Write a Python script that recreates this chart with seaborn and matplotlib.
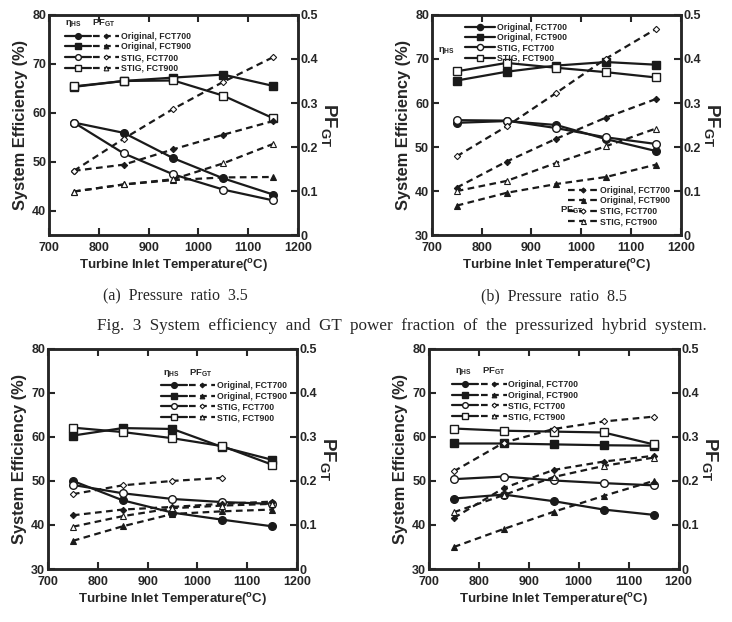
import numpy as np
import seaborn as sns
import matplotlib.pyplot as plt
from matplotlib.legend_handler import HandlerTuple

#%% data
tit = [750, 850, 950, 1050, 1150]
series = ["Original, FCT700", "Original, FCT900", "STIG, FCT700", "STIG, FCT900"]

# (a) pressure ratio 3.5
eff_a = {"Original, FCT700": [58.0, 55.9, 50.7, 46.6, 43.3],
         "Original, FCT900": [65.3, 66.5, 67.2, 67.8, 65.5],
         "STIG, FCT700":     [58.0, 51.7, 47.4, 44.3, 42.1],
         "STIG, FCT900":     [65.4, 66.5, 66.6, 63.5, 58.9]}
pf_a = {"Original, FCT700": [0.146, 0.160, 0.195, 0.228, 0.259],
        "Original, FCT900": [0.099, 0.115, 0.125, 0.131, 0.132],
        "STIG, FCT700":     [0.146, 0.219, 0.287, 0.348, 0.404],
        "STIG, FCT900":     [0.099, 0.115, 0.127, 0.163, 0.207]}

# (b) pressure ratio 8.5
eff_b = {"Original, FCT700": [55.5, 55.9, 55.0, 51.8, 49.1],
         "Original, FCT900": [65.1, 67.1, 68.5, 69.3, 68.7],
         "STIG, FCT700":     [56.1, 56.0, 54.3, 52.2, 50.7],
         "STIG, FCT900":     [67.2, 69.1, 68.0, 67.0, 65.8]}
pf_b = {"Original, FCT700": [0.108, 0.167, 0.219, 0.267, 0.309],
        "Original, FCT900": [0.067, 0.096, 0.116, 0.132, 0.160],
        "STIG, FCT700":     [0.179, 0.247, 0.323, 0.401, 0.468],
        "STIG, FCT900":     [0.100, 0.123, 0.164, 0.202, 0.242]}

# (c)
eff_c = {"Original, FCT700": [50.0, 45.6, 42.8, 41.2, 39.7],
         "Original, FCT900": [60.3, 62.0, 61.8, 57.7, 54.8],
         "STIG, FCT700":     [49.1, 47.2, 45.9, 45.2, 44.8],
         "STIG, FCT900":     [62.1, 61.1, 59.7, 57.9, 53.7]}
pf_c = {"Original, FCT700": [0.122, 0.135, 0.141, 0.148, 0.153],
        "Original, FCT900": [0.064, 0.097, 0.125, 0.131, 0.135],
        "STIG, FCT700":     [0.170, 0.190, 0.200, 0.207, np.nan],
        "STIG, FCT900":     [0.096, 0.120, 0.138, 0.144, 0.148]}

# (d)
eff_d = {"Original, FCT700": [46.0, 46.9, 45.4, 43.5, 42.3],
         "Original, FCT900": [58.5, 58.5, 58.3, 58.1, 58.0],
         "STIG, FCT700":     [50.4, 51.0, 50.1, 49.5, 49.0],
         "STIG, FCT900":     [61.9, 61.4, 61.2, 61.0, 58.3]}
pf_d = {"Original, FCT700": [0.116, 0.184, 0.225, 0.244, 0.257],
        "Original, FCT900": [0.050, 0.091, 0.130, 0.166, 0.200],
        "STIG, FCT700":     [0.222, 0.287, 0.318, 0.335, 0.346],
        "STIG, FCT900":     [0.129, 0.168, 0.209, 0.234, 0.253]}

xticks = [700, 800, 900, 1000, 1100, 1200]
pf_ticks = [0, 0.1, 0.2, 0.3, 0.4, 0.5]
pf_labels = ["0", "0.1", "0.2", "0.3", "0.4", "0.5"]

#%% styles
solid_style = {"Original, FCT700": dict(marker="o", mfc="k", ms=5.5),
               "Original, FCT900": dict(marker="s", mfc="k", ms=5.5),
               "STIG, FCT700":     dict(marker="o", mfc="w", ms=5.5),
               "STIG, FCT900":     dict(marker="s", mfc="w", ms=5.5)}
dash_style = {"Original, FCT700": dict(marker="D", mfc="k", ms=3.2),
              "Original, FCT900": dict(marker="^", mfc="k", ms=4.5),
              "STIG, FCT700":     dict(marker="D", mfc="w", ms=3.2),
              "STIG, FCT900":     dict(marker="^", mfc="w", ms=4.5)}

sns.set_theme(style="ticks")
plt.rcParams.update({
    "font.family": ["Liberation Sans", "DejaVu Sans"],
    "font.weight": "bold",
    "axes.labelweight": "bold",
    "axes.linewidth": 1.8,
    "xtick.direction": "in",
    "ytick.direction": "in",
    "xtick.major.size": 5,
    "ytick.major.size": 5,
    "xtick.major.width": 1.5,
    "ytick.major.width": 1.5,
    "xtick.labelsize": 9,
    "ytick.labelsize": 9,
    "mathtext.default": "bf",
    "mathtext.fontset": "custom",
    "mathtext.bf": "Liberation Sans:bold",
    "mathtext.rm": "Liberation Sans:bold",
})

fig = plt.figure(figsize=(7.32, 6.22), dpi=100)
rects = [(0.067, 0.622, 0.340, 0.354),
         (0.590, 0.622, 0.340, 0.354),
         (0.0656, 0.0852, 0.340, 0.354),
         (0.586, 0.0852, 0.341, 0.354)]
panels = [(eff_a, pf_a, (35, 80), [40, 50, 60, 70, 80]),
          (eff_b, pf_b, (30, 80), [30, 40, 50, 60, 70, 80]),
          (eff_c, pf_c, (30, 80), [30, 40, 50, 60, 70, 80]),
          (eff_d, pf_d, (30, 80), [30, 40, 50, 60, 70, 80])]


def draw_panel(rect, eff, pf, ylim, yticks):
    ax = fig.add_axes(rect)
    ax2 = ax.twinx()
    solid, dashed = {}, {}
    for s in series:
        sns.lineplot(x=tit, y=eff[s], ax=ax, color="k", lw=1.6,
                     mec="k", mew=1.0, **solid_style[s])
        solid[s] = ax.lines[-1]
        sns.lineplot(x=tit, y=pf[s], ax=ax2, color="k", lw=1.6,
                     linestyle=(0, (3, 2)), mec="k", mew=0.8, **dash_style[s])
        dashed[s] = ax2.lines[-1]
    ax.set_xlim(700, 1200)
    ax.set_xticks(xticks)
    ax.set_ylim(*ylim)
    ax.set_yticks(yticks)
    ax2.set_ylim(0, 0.5)
    ax2.set_yticks(pf_ticks)
    ax2.set_yticklabels(pf_labels)
    ax.tick_params(axis="y", pad=2)
    ax.tick_params(axis="x", top=True, pad=5)
    ax2.tick_params(pad=2)
    ax.set_xlabel(r"Turbine Inlet Temperature($^{\mathbf{o}}$C)", fontsize=9.5, labelpad=2)
    ax.set_ylabel("System Efficiency (%)", fontsize=11.8, labelpad=3)
    ax2.set_ylabel(r"PF$_{\mathbf{GT}}$", fontsize=13.5, rotation=270, labelpad=15)
    for a in (ax, ax2):
        for sp in a.spines.values():
            sp.set_linewidth(1.8)
    return ax, ax2, solid, dashed


def combo_legend(ax, solid, dashed, anchor, hx, hy):
    ax.legend([(solid[s], dashed[s]) for s in series], series,
              handler_map={tuple: HandlerTuple(ndivide=None, pad=0.3)},
              loc="upper left", bbox_to_anchor=anchor, frameon=False,
              fontsize=6.3, handlelength=6.2, handletextpad=0.2, markerscale=0.75,
              labelspacing=0.2, borderaxespad=0)
    ax.text(hx, hy, r"$\eta_{\mathrm{HS}}$", transform=ax.transAxes, fontsize=6.8,
            ha="center", va="bottom")
    ax.text(hx + 0.12, hy, r"PF$_{\mathbf{GT}}$", transform=ax.transAxes, fontsize=6.8,
            ha="center", va="bottom")


axes = []
for rect, (eff, pf, ylim, yt) in zip(rects, panels):
    axes.append(draw_panel(rect, eff, pf, ylim, yt))

# (a)
ax, ax2, solid, dashed = axes[0]
combo_legend(ax, solid, dashed, (0.05, 0.94), 0.10, 0.935)

# (b) two separate legends
ax, ax2, solid, dashed = axes[1]
leg1 = ax2.legend([solid[s] for s in series], series, loc="upper left",
                  bbox_to_anchor=(0.12, 0.98), frameon=False, fontsize=6.3,
                  handlelength=3.4, handletextpad=0.2, labelspacing=0.15,
                  markerscale=0.8, borderaxespad=0)
ax2.add_artist(leg1)
ax2.legend([dashed[s] for s in series], series, loc="lower right",
           bbox_to_anchor=(0.97, 0.025), frameon=False, fontsize=6.3,
           handlelength=3.4, handletextpad=0.2, labelspacing=0.15,
           markerscale=0.8, borderaxespad=0)
ax.text(0.06, 0.84, r"$\eta_{\mathrm{HS}}$", transform=ax.transAxes, fontsize=6.8,
        ha="center", va="center")
ax.text(0.56, 0.115, r"PF$_{\mathbf{GT}}$", transform=ax.transAxes, fontsize=6.8,
        ha="center", va="center")

# (c)
ax, ax2, solid, dashed = axes[2]
combo_legend(ax, solid, dashed, (0.44, 0.87), 0.495, 0.865)

# (d)
ax, ax2, solid, dashed = axes[3]
combo_legend(ax, solid, dashed, (0.08, 0.875), 0.14, 0.87)

# captions
cap = dict(family=["Liberation Serif", "DejaVu Serif"], fontweight="normal",
           ha="center", va="center")
fig.text(0.239, 0.524, "(a)  Pressure  ratio  3.5", fontsize=11.5, **cap)
fig.text(0.757, 0.524, "(b)  Pressure  ratio  8.5", fontsize=11.5, **cap)
fig.text(0.549, 0.476, "Fig.  3  System  efficiency  and  GT  power  fraction  of  the  "
         "pressurized  hybrid  system.", fontsize=12.3, **cap)
fig.text(0.239, -0.013, "(c)  Pressure  ratio  5.5", fontsize=11.5, **cap)

fig.savefig("out.png", dpi=100)
